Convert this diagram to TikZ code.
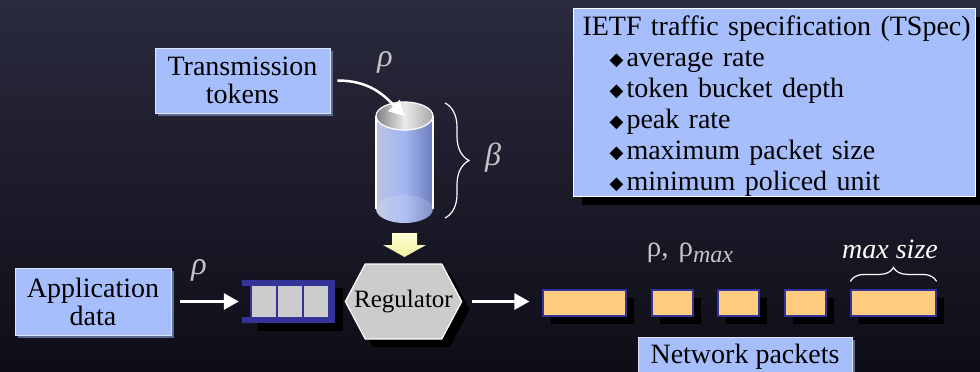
\documentclass[tikz,border=0pt]{standalone}
\usepackage{fontspec}
\setmainfont{Liberation Serif}
\newfontfamily\bulletfont{DejaVu Sans}
\definecolor{slideTop}{HTML}{2A2A3E}
\definecolor{slideBottom}{HTML}{0E0D17}
\definecolor{boxBlue}{HTML}{A6BEFC}
\definecolor{boxShade}{HTML}{5E6A96}
\definecolor{queueBlue}{HTML}{333399}
\definecolor{cellGray}{HTML}{CCCCCC}
\definecolor{packetOrange}{HTML}{FFCC80}
\definecolor{greekGray}{HTML}{C4C4C4}
\definecolor{arrowYellow}{HTML}{F2F2A6}
\definecolor{arrowYellowTop}{HTML}{FFFFD4}
\definecolor{bucketLeft}{HTML}{BAC4E2}
\definecolor{bucketMid}{HTML}{A2B6F2}
\definecolor{bucketRight}{HTML}{6B7DBA}
\usepackage{tikz}
\usetikzlibrary{arrows.meta, positioning, shapes.symbols, shadows, calc, decorations.pathreplacing}

\newcommand\specitem{\hspace*{27pt}\makebox[17pt][l]{\raisebox{1.5pt}{\bulletfont\fontsize{18}{18}\selectfont ◆}}}

\tikzset{
  labelbox/.style={fill=boxBlue, draw=white!60!boxBlue, line width=0.6pt, align=center, inner sep=0pt,
    font=\fontsize{28}{28}\selectfont,
    drop shadow={shadow xshift=3pt, shadow yshift=-3pt, fill=boxShade, opacity=1}},
  hardshadow/.style={drop shadow={shadow xshift=8pt, shadow yshift=-8pt, fill=black, opacity=1}},
  specbox/.style={fill=boxBlue, draw=white, line width=1pt, align=left, text width=384pt,
    inner xsep=9pt, inner ysep=0pt, font=\fontsize{28}{31}\selectfont, hardshadow},
  regulator/.style={signal, signal to=east and west, signal pointer angle=124,
    minimum height=75, inner xsep=-11pt, inner ysep=0pt, fill=cellGray, draw=white, line width=1.2pt,
    font=\fontsize{25}{25}\selectfont, hardshadow},
  packet/.style={fill=packetOrange, draw=queueBlue, line width=1.2pt, minimum height=26, inner sep=0pt, hardshadow},
  greek/.style={text=greekGray, font=\fontsize{32}{32}\selectfont\itshape},
  flow/.style={draw=white, line width=3pt, -{Triangle[length=15pt, width=16pt]}},
  curly/.style={draw=white, line width=1.2pt, decorate}
}

\begin{document}
\begin{tikzpicture}[x=1pt, y=-1pt]
  % Slide background
  \useasboundingbox (0,0) rectangle (980,372);
  \shade[top color=slideTop, bottom color=slideBottom] (0,0) rectangle (980,372);

  % Token bucket
  \coordinate (bucket top) at (404.5,116);
  \coordinate (bucket bottom) at (404.5,209);
  \shade[left color=bucketLeft, right color=bucketRight, middle color=bucketMid] (376,116) rectangle (433,209);
  \shade[left color=bucketLeft, right color=bucketRight, middle color=bucketMid] (bucket bottom) ellipse [x radius=28.5, y radius=14];
  \fill[white, opacity=0.15] (bucket bottom) ellipse [x radius=28.5, y radius=14];
  \shade[left color=black!50, right color=black!35, middle color=black!8] (bucket top) ellipse [x radius=28.5, y radius=14];
  \draw[white, line width=1.2pt] (bucket top) ellipse [x radius=28.5, y radius=14];
  \draw[white, line width=1.2pt] (376,116) -- (376,209) (433,116) -- (433,209);
  \draw[curly, decoration={brace, amplitude=24pt}] (445,103) -- (445,218);
  \node[greek] (beta) at (493,158) {β};

  % Tokens flowing into the bucket
  \node[labelbox, minimum width=175, minimum height=65] (tokens) at (242.5,80.5) {Transmission\\tokens};
  \node[greek] (rhoTok) at (385,62) {ρ};
  \draw[flow, line width=2.5pt, shorten <=7pt] (tokens.east) .. controls +(40,0) and +(-20,-20) .. (bucket top);

  % Bucket feeds the regulator
  \fill[top color=arrowYellowTop, bottom color=arrowYellow]
    (392,233) -- (417,233) -- (417,245) -- (426,245) -- (404.5,257) -- (383,245) -- (392,245) -- cycle;

  % Application side
  \node[labelbox, minimum width=156, minimum height=67] (app) at (93,301.5) {Application\\data};
  \node[greek] (rhoApp) at (199,270) {ρ};

  % Queue
  \node[fill=queueBlue, minimum width=85, minimum height=43, inner sep=0pt, hardshadow] (queue) at (292.5,301.5) {};
  \fill[queueBlue] (queue.north west) rectangle ++(-8,6) (queue.south west) rectangle ++(-8,-6);
  \foreach \i in {0,1,2}
    \fill[cellGray] ($(queue.north west)+(2+26*\i,6)$) rectangle ++(24,31);

  \node[regulator] (reg) at (403.5,301.5) {Regulator};

  \draw[flow, shorten <=9pt, shorten >=11pt] (app) -- (queue);

  % Packets on the network
  \foreach \name/\cx/\w in {p1/584.5/83, p2/672.5/41, p3/738.5/41, p4/805.5/41, p5/893.5/85}
    \node[packet, minimum width=\w] (\name) at (\cx,303) {};
  \draw[flow, shorten <=10pt, shorten >=13pt] (reg.east) -- (reg.east -| p1.west);

  \node[text=greekGray, font=\fontsize{29}{29}\selectfont] (rates) at (690,253)
    {ρ,\hspace{10pt}ρ\raisebox{-6pt}{\fontsize{24}{24}\selectfont\itshape max}};
  \node[text=white, font=\fontsize{28}{28}\selectfont\itshape] (maxsize) at (890,249) {max size};
  \draw[curly, decoration={brace, amplitude=14pt}] ($(p5.north west)+(0,-8)$) -- ($(p5.north east)+(0,-8)$);

  \node[labelbox, minimum width=214, minimum height=40] (netpk) at (745,357) {Network packets};

  % Traffic specification
  \node[specbox, anchor=north west] (tspec) at (573,8) {\rule{0pt}{27pt}\mbox{IETF traffic specification (TSpec)}\\
    \specitem average rate\\
    \specitem token bucket depth\\
    \specitem peak rate\\
    \specitem maximum packet size\\
    \specitem minimum policed unit\rule[-6pt]{0pt}{6pt}};
\end{tikzpicture}
\end{document}
